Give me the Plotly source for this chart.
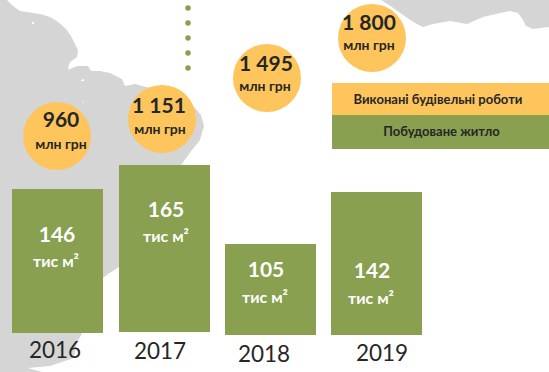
import plotly.graph_objects as go

# Data
years = ["2016", "2017", "2018", "2019"]
housing_labels = ["146", "165", "105", "142"]
works_labels = ["960", "1 151", "1 495", "1 800"]
housing_unit = "тис м²"
works_unit = "млн грн"
legend_labels = ["Виконані будівельні роботи", "Побудоване житло"]

# Drawn heights of the bars (their sizes in the picture)
bar_heights = [144, 167, 91, 143]
bar_tops = [189, 165, 244, 192]
bar_centers = [57.5, 164.5, 270.5, 376.5]

circle_x = [57, 162, 267, 372]
circle_y = [136, 119, 78, 38]

value_pos_x = [57, 166, 266, 372]
value_pos_y = [237, 212, 272, 273]
unit_pos_x = [56, 166, 265, 371]
unit_pos_y = [263, 238, 299, 300]
works_val_x = [61, 159, 266, 369]
works_val_y = [122, 108, 66, 25]
works_unit_x = [61, 160, 265, 369]
works_unit_y = [145, 130, 87, 46]
year_x = [55, 160, 264, 382]
year_y = [352, 353, 356, 355]
dot_x = [188, 188, 188, 188, 188]
dot_y = [8, 23, 38, 53, 68]

GREEN = "#88A04F"
ORANGE = "#FDC55C"
GRAY = "#D5D5D5"
DARK = "#262626"
FONT = "Lato"

map_left = [(0, 0), (7, 0), (13, 6), (20, 11), (40, 14), (50, 17), (58, 22), (66, 29), (71, 36),
            (78, 50), (77, 57), (70, 62), (68, 68), (76, 66), (88, 66), (91, 71), (100, 71),
            (110, 73), (122, 79), (125, 86), (135, 84), (150, 88), (175, 95), (195, 108),
            (201, 115), (204, 126), (200, 140), (192, 150), (181, 165), (119, 165), (119, 267),
            (108, 274), (103, 278), (103, 333), (82, 333), (76, 345), (74, 358), (50, 366),
            (28, 368), (42, 372), (0, 372)]
map_right = [(381, 0), (392, 7), (403, 15), (415, 23), (423, 27), (433, 24), (450, 21), (467, 24),
             (483, 17), (500, 13), (510, 11), (518, 13), (523, 20), (526, 26), (533, 29),
             (549, 27), (549, 0)]
islands = [[(68, 70), (70, 65), (78, 62), (80, 65), (72, 68)],
           [(32, 22), (34, 22), (34, 24), (32, 24)],
           [(81, 80), (84, 79), (84, 81), (81, 81)],
           [(82, 100), (84, 103), (83, 103)]]


def path(points):
    return "M" + " L".join(f"{x},{y}" for x, y in points) + " Z"


shapes = [dict(type="path", path=path(map_left), fillcolor=GRAY, line_width=0, layer="below"),
          dict(type="path", path=path(map_right), fillcolor=GRAY, line_width=0, layer="below")]
for isl in islands:
    shapes.append(dict(type="path", path=path(isl), fillcolor="white", line_width=0, layer="below"))
shapes.append(dict(type="rect", x0=332, x1=549, y0=83, y1=115, fillcolor=ORANGE, line_width=0, layer="below"))
shapes.append(dict(type="rect", x0=332, x1=549, y0=115, y1=149, fillcolor=GREEN, line_width=0, layer="below"))

fig = go.Figure()
fig.add_trace(go.Bar(x=bar_centers, y=bar_heights, base=bar_tops, width=91,
                     marker=dict(color=GREEN, line_width=0), hoverinfo="skip"))
fig.add_trace(go.Scatter(x=circle_x, y=circle_y, mode="markers",
                         marker=dict(size=68, color=ORANGE, line_width=0), hoverinfo="skip"))
fig.add_trace(go.Scatter(x=dot_x, y=dot_y, mode="markers",
                         marker=dict(size=5.5, color=GREEN, line_width=0), hoverinfo="skip"))


def texts(xs, ys, labels, size, color, family=FONT, weight="bold"):
    fig.add_trace(go.Scatter(x=xs, y=ys, text=labels, mode="text", textposition="middle center",
                             textfont=dict(size=size, color=color, family=family, weight=weight),
                             hoverinfo="skip"))


texts(value_pos_x, value_pos_y, housing_labels, 21, "white")
texts(unit_pos_x, unit_pos_y, [housing_unit] * 4, 16, "white")
texts(works_val_x, works_val_y, works_labels, 21, DARK)
texts(works_unit_x, works_unit_y, [works_unit] * 4, 14, DARK)
texts(year_x, year_y, years, 22.5, DARK, weight="normal")
texts([438, 441.5], [101, 133], legend_labels, 13, DARK)

fig.update_layout(width=549, height=372, margin=dict(l=0, r=0, t=0, b=0),
                  paper_bgcolor="white", plot_bgcolor="rgba(0,0,0,0)", showlegend=False,
                  shapes=shapes,
                  xaxis=dict(range=[0, 549], visible=False, fixedrange=True),
                  yaxis=dict(range=[372, 0], visible=False, fixedrange=True))
fig.write_html("out.html", config={"displayModeBar": False},
               post_script="document.body.style.margin='0';")
